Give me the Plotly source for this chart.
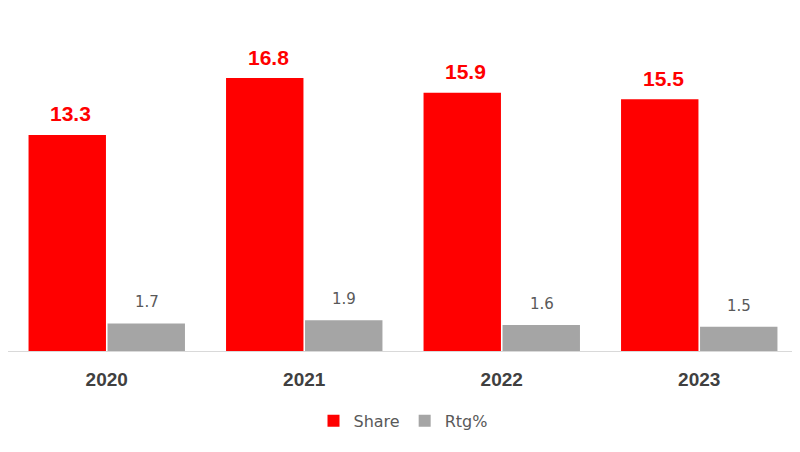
import plotly.graph_objects as go

years = ["2020", "2021", "2022", "2023"]
share = [13.3, 16.8, 15.9, 15.5]
rtg = [1.7, 1.9, 1.6, 1.5]

fig = go.Figure()
fig.add_trace(go.Bar(
    x=years, y=share, name="Share",
    marker=dict(color="#FF0000", line=dict(width=0)),
))
fig.add_trace(go.Bar(
    x=years, y=rtg, name="Rtg%",
    marker=dict(color="#A5A5A5", line=dict(width=0)),
))

for i, v in enumerate(share):
    fig.add_annotation(
        x=i, y=v, xref="x", yref="y", text=f"<b>{v:.1f}</b>",
        showarrow=False, xshift=-36, yshift=21, yanchor="middle",
        font=dict(family="Liberation Sans, Arial", size=21, color="#FF0000"),
    )
for i, v in enumerate(rtg):
    fig.add_annotation(
        x=i, y=v, xref="x", yref="y", text=f"{v:.1f}",
        showarrow=False, xshift=40, yshift=21, yanchor="middle",
        font=dict(family="DejaVu Sans, sans-serif", size=15, color="#595959"),
    )

fig.update_layout(
    width=800, height=452,
    margin=dict(l=0, r=10, t=18, b=109, autoexpand=False),
    paper_bgcolor="white", plot_bgcolor="white",
    barmode="group", bargap=0.2, bargroupgap=0.02,
    xaxis=dict(
        type="category", range=[-0.5, len(years) - 0.5],
        showline=True, linecolor="#D9D9D9", linewidth=1,
        ticks="outside", ticklen=11, tickcolor="rgba(0,0,0,0)", showgrid=False,
        tickfont=dict(family="Liberation Sans, Arial", size=19, color="#404040", weight="bold"),
        automargin=False,
    ),
    yaxis=dict(range=[0, 20], visible=False, showgrid=False, zeroline=False, automargin=False),
    legend=dict(
        orientation="h", x=0.5, xanchor="center", y=-0.215, yanchor="middle",
        font=dict(family="DejaVu Sans, sans-serif", size=16, color="#595959"),
        traceorder="normal", itemwidth=30, tracegroupgap=0,
    ),
    showlegend=True,
)
fig.write_html("out.html")
